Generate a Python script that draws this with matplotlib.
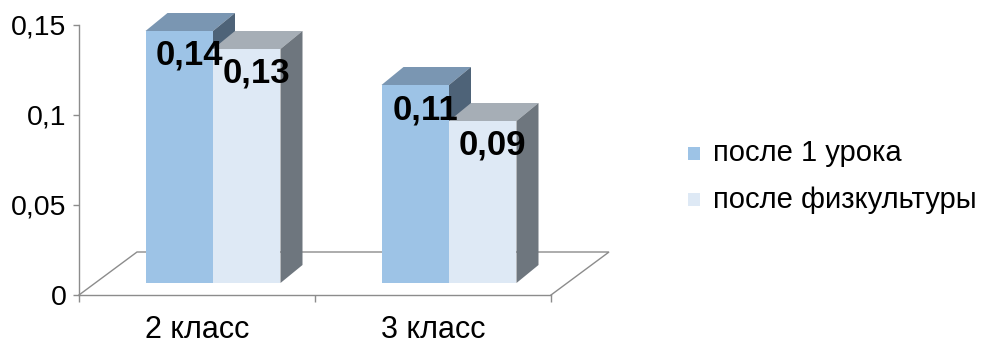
import matplotlib
matplotlib.use("Agg")
import matplotlib.pyplot as plt
from matplotlib.patches import Polygon
import numpy as np

plt.rcParams['font.family'] = ['Liberation Sans', 'DejaVu Sans']

categories = ["2 класс", "3 класс"]
series_names = ["после 1 урока", "после физкультуры"]
after_lesson = [0.14, 0.11]
after_pe = [0.13, 0.09]
y_ticks = [0, 0.05, 0.1, 0.15]
y_tick_labels = ["0", "0,05", "0,1", "0,15"]

# face colours: (front, top, side)
palette = [
    ("#9dc3e6", "#7a96b2", "#4e6378"),
    ("#dee9f5", "#a6aeb6", "#6e767e"),
]
axis_grey = "#8c8c8c"

W, H, DPI = 983, 340, 100
fig = plt.figure(figsize=(W / DPI, H / DPI), dpi=DPI)
ax = fig.add_axes([79 / W, 45 / H, 472 / W, 270 / H])
ax.set_xlim(0, 2)
ax.set_ylim(0, 0.15)

# perspective offsets in pixels
FLOOR_DX, FLOOR_DY = 58, 43     # full floor depth
FRONT_DX, FRONT_DY = 16, 12     # bar front plane behind the floor front edge
BAR_DX, BAR_DY = 22, 18         # depth of a single bar
BAR_W = 0.286                   # bar width in category units


def shift(x, y, dxp, dyp):
    p = ax.transData.transform((x, y))
    return tuple(ax.transData.inverted().transform(p + np.array([dxp, dyp])))


# floor outline
fl = [shift(0, 0, 0, 0), shift(0, 0, FLOOR_DX, FLOOR_DY),
      shift(2, 0, FLOOR_DX, FLOOR_DY), shift(2, 0, 0, 0)]
ax.plot([p[0] for p in fl], [p[1] for p in fl], color=axis_grey, lw=1.0,
        clip_on=False, zorder=1, solid_joinstyle='miter')


def draw_bar(x0, value, colors):
    x1 = x0 + BAR_W
    fl_ = shift(x0, 0, FRONT_DX, FRONT_DY)
    fr_ = shift(x1, 0, FRONT_DX, FRONT_DY)
    tl = shift(x0, value, FRONT_DX, FRONT_DY)
    tr = shift(x1, value, FRONT_DX, FRONT_DY)
    btl = shift(x0, value, FRONT_DX + BAR_DX, FRONT_DY + BAR_DY)
    btr = shift(x1, value, FRONT_DX + BAR_DX, FRONT_DY + BAR_DY)
    bbr = shift(x1, 0, FRONT_DX + BAR_DX, FRONT_DY + BAR_DY)
    front, top, side = colors
    ax.add_patch(Polygon([fl_, fr_, tr, tl], closed=True, facecolor=front,
                         edgecolor='none', clip_on=False, zorder=3))
    ax.add_patch(Polygon([tl, tr, btr, btl], closed=True, facecolor=top,
                         edgecolor='none', clip_on=False, zorder=3))
    ax.add_patch(Polygon([fr_, bbr, btr, tr], closed=True, facecolor=side,
                         edgecolor='none', clip_on=False, zorder=3))
    return tl, tr


x_centers = np.arange(len(categories)) + 0.5
series = [after_lesson, after_pe]
bar_tops = []
for c, xc in enumerate(x_centers):
    for s, vals in enumerate(series):
        x0 = xc - BAR_W + s * BAR_W
        tl, tr = draw_bar(x0, vals[c], palette[s])
        bar_tops.append((tl, tr, vals[c]))

# value labels, written with a decimal comma
for tl, tr, v in bar_tops:
    cx = (tl[0] + tr[0]) / 2
    pos = shift(cx, tl[1], 10, -34)
    txt = f"{v:.2f}".replace(".", ",")
    ax.text(pos[0], pos[1], txt, ha='center', va='baseline', fontsize=25,
            fontweight='bold', color='black', zorder=5, clip_on=False)

# axes styling
for sp in ['top', 'right']:
    ax.spines[sp].set_visible(False)
for sp in ['left', 'bottom']:
    ax.spines[sp].set_color(axis_grey)
    ax.spines[sp].set_linewidth(1.0)
ax.set_yticks(y_ticks)
ax.set_yticklabels(y_tick_labels)
ax.tick_params(axis='y', length=4, width=1, color=axis_grey, pad=5, labelsize=20.5)
ax.set_xticks([0, 1, 2])
ax.set_xticklabels([])
ax.tick_params(axis='x', which='major', length=5, width=1, color=axis_grey)

# category labels under each group
for xc, cat in zip(x_centers, categories):
    ax.annotate(cat, xy=(xc, 0), xycoords=('data', 'axes fraction'),
                xytext=(0, -43), textcoords='offset pixels',
                ha='center', va='baseline', fontsize=22, annotation_clip=False)
ax.set_facecolor('none')

# legend
for i, name in enumerate(series_names):
    ly = 1 - (153.5 + i * 46) / H
    fig.patches.append(plt.Rectangle((688 / W, ly - 6.5 / H), 12 / W, 13 / H,
                                     transform=fig.transFigure,
                                     facecolor=palette[i][0], edgecolor='none'))
    fig.text(713 / W, ly, name, fontsize=21, va='center', ha='left')

fig.savefig("out.png", dpi=DPI)
